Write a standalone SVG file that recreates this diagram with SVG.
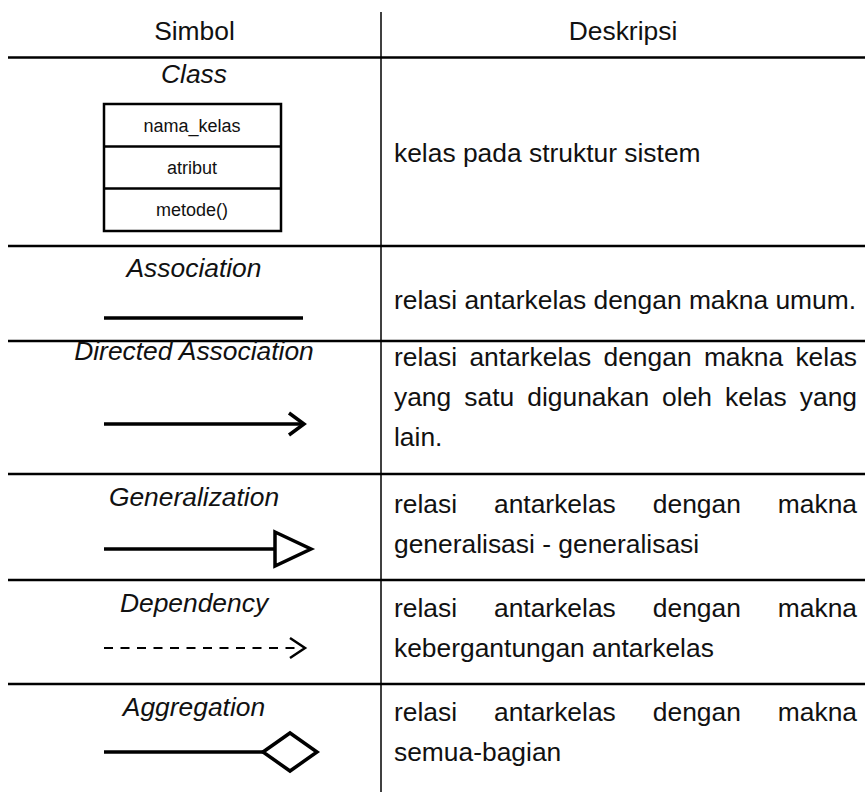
<svg xmlns="http://www.w3.org/2000/svg" width="865" height="792" viewBox="0 0 865 792">
  <style>
    .grid { stroke: #000; stroke-width: 2.5; fill: none; }
    .sep { stroke: #000; stroke-width: 1.5; fill: none; }
    .head { font-family: "Liberation Sans", Arial, sans-serif; font-size: 26.4px; fill: #111; text-anchor: middle; }
    .label { font-family: "Liberation Sans", Arial, sans-serif; font-size: 26.4px; font-style: italic; fill: #111; text-anchor: middle; }
    .desc { font-family: "Liberation Sans", Arial, sans-serif; font-size: 26.4px; fill: #111; }
    .cls { font-family: "Liberation Sans", Arial, sans-serif; font-size: 18px; fill: #111; text-anchor: middle; }
    .box { stroke: #000; stroke-width: 2.5; fill: #fff; }
    .edge { stroke: #000; stroke-width: 3.5; fill: none; stroke-linecap: butt; }
    .dash { stroke: #000; stroke-width: 2; fill: none; stroke-dasharray: 9 7.5; }
    .head-open { stroke: #000; stroke-width: 3.5; fill: none; stroke-linejoin: miter; }
    .head-hollow { stroke: #000; stroke-width: 3.5; fill: #fff; stroke-linejoin: miter; }
  </style>

  <!-- table rules -->
  <g id="table">
    <line class="sep" x1="381" y1="12" x2="381" y2="792"/>
    <line class="grid" x1="8" y1="57.5" x2="865" y2="57.5"/>
    <line class="grid" x1="8" y1="246" x2="865" y2="246"/>
    <line class="grid" x1="8" y1="341" x2="865" y2="341"/>
    <line class="grid" x1="8" y1="474" x2="865" y2="474"/>
    <line class="grid" x1="8" y1="580" x2="865" y2="580"/>
    <line class="grid" x1="8" y1="684" x2="865" y2="684"/>
  </g>

  <!-- column headings -->
  <g id="header">
    <text class="head" x="194.5" y="40">Simbol</text>
    <text class="head" x="623" y="40">Deskripsi</text>
  </g>

  <!-- Class -->
  <g id="class-node">
    <text class="label" x="194" y="83">Class</text>
    <rect class="box" x="104" y="104" width="177" height="127"/>
    <line class="box" x1="104" y1="146.5" x2="281" y2="146.5"/>
    <line class="box" x1="104" y1="188.5" x2="281" y2="188.5"/>
    <text class="cls" x="192" y="132">nama_kelas</text>
    <text class="cls" x="192" y="174">atribut</text>
    <text class="cls" x="192" y="216">metode()</text>
    <text class="desc" x="394" y="162">kelas pada struktur sistem</text>
  </g>

  <!-- Association -->
  <g id="association">
    <text class="label" x="194" y="277">Association</text>
    <text class="desc" x="394" y="309">relasi antarkelas dengan makna umum.</text>
  </g>

  <!-- Directed Association -->
  <g id="directed-association">
    <text class="label" x="194" y="360">Directed Association</text>
    <text class="desc" y="366"><tspan x="394">relasi</tspan><tspan x="469.4">antarkelas</tspan><tspan x="603.5">dengan</tspan><tspan x="703.9">makna</tspan><tspan x="795.4">kelas</tspan></text>
    <text class="desc" y="406"><tspan x="394">yang</tspan><tspan x="464.3">satu</tspan><tspan x="527.3">digunakan</tspan><tspan x="662.1">oleh</tspan><tspan x="725.1">kelas</tspan><tspan x="799.8">yang</tspan></text>
    <text class="desc" x="394" y="446">lain.</text>
  </g>

  <!-- Generalization -->
  <g id="generalization">
    <text class="label" x="194" y="506">Generalization</text>
    <text class="desc" y="513"><tspan x="394">relasi</tspan><tspan x="494">antarkelas</tspan><tspan x="652.8">dengan</tspan><tspan x="777.8">makna</tspan></text>
    <text class="desc" x="394" y="553">generalisasi - generalisasi</text>
  </g>

  <!-- Dependency -->
  <g id="dependency">
    <text class="label" x="194" y="612">Dependency</text>
    <text class="desc" y="617"><tspan x="394">relasi</tspan><tspan x="494">antarkelas</tspan><tspan x="652.8">dengan</tspan><tspan x="777.8">makna</tspan></text>
    <text class="desc" x="394" y="657">kebergantungan antarkelas</text>
  </g>

  <!-- Aggregation -->
  <g id="aggregation">
    <text class="label" x="194" y="716">Aggregation</text>
    <text class="desc" y="721"><tspan x="394">relasi</tspan><tspan x="494">antarkelas</tspan><tspan x="652.8">dengan</tspan><tspan x="777.8">makna</tspan></text>
    <text class="desc" x="394" y="761">semua-bagian</text>
  </g>

  <!-- connector symbols -->
  <g id="connectors">
    <line class="edge" x1="104" y1="318" x2="303" y2="318"/>

    <line class="edge" x1="104" y1="424" x2="302" y2="424"/>
    <polyline class="head-open" points="289,413 304,424 289,435"/>

    <line class="edge" x1="104" y1="549" x2="275" y2="549"/>
    <polygon class="head-hollow" points="275,532 311,549 275,566"/>

    <line class="dash" x1="104" y1="648" x2="302" y2="648"/>
    <polyline class="head-open" style="stroke-width:2.5" points="290,638 305,648 290,658"/>

    <line class="edge" x1="104" y1="752" x2="263" y2="752"/>
    <polygon class="head-hollow" points="263,752 290,733 317,752 290,771"/>
  </g>
</svg>
